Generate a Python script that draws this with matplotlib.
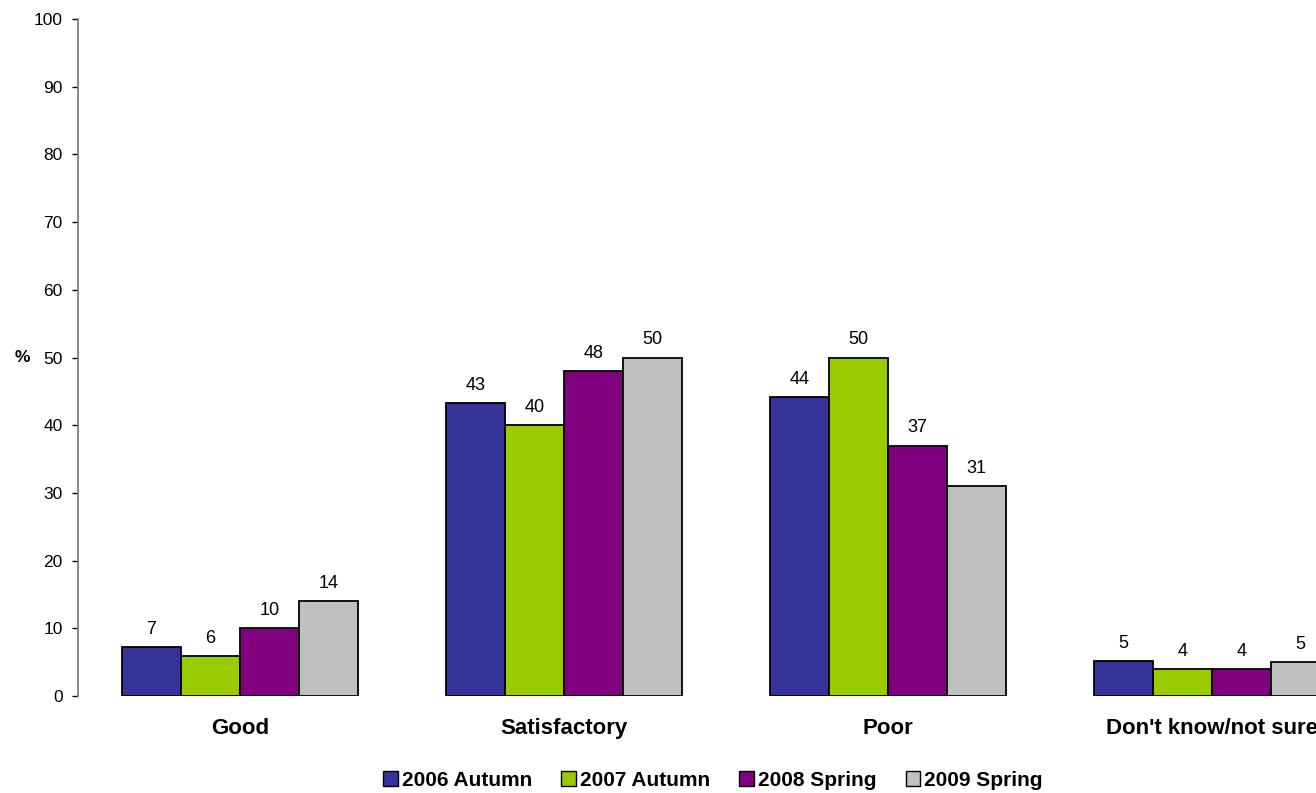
import matplotlib
matplotlib.use("Agg")
import matplotlib.pyplot as plt
import numpy as np
from matplotlib.patches import Patch

plt.rcParams['font.family'] = ['Liberation Sans', 'DejaVu Sans']

categories = ["Good", "Satisfactory", "Poor", "Don't know/not sure"]
series_names = ["2006 Autumn", "2007 Autumn", "2008 Spring", "2009 Spring"]
s2006_autumn = [7.3, 43.3, 44.2, 5.2]
s2007_autumn = [5.9, 40.0, 50.0, 4.0]
s2008_spring = [10.0, 48.0, 37.0, 4.0]
s2009_spring = [14.0, 50.0, 31.0, 5.0]
series_values = [s2006_autumn, s2007_autumn, s2008_spring, s2009_spring]
colors = ["#333399", "#99CC00", "#800080", "#C0C0C0"]
yticks = list(range(0, 101, 10))

W, H = 1316, 793
fig = plt.figure(figsize=(W / 100, H / 100), dpi=100)
ax = fig.add_axes([78 / W, 1 - 696 / H, 1296 / W, (696 - 19) / H])

x = np.arange(len(categories))
bw = 59 / 324
for i, (vals, col) in enumerate(zip(series_values, colors)):
    pos = x + (i - 1.5) * bw
    bars = ax.bar(pos, vals, width=bw, color=col, edgecolor='black', linewidth=1.3, zorder=3)
    for b, v in zip(bars, vals):
        ax.annotate(f"{v:.0f}", (b.get_x() + b.get_width() / 2, v),
                    xytext=(0, 6.5), textcoords='offset points',
                    ha='center', va='bottom', fontsize=13, color='#000000')

ax.set_xlim(-0.5, len(categories) - 0.5)
ax.set_ylim(0, 100)
ax.set_yticks(yticks)
ax.set_yticklabels([str(t) for t in yticks])
ax.tick_params(axis='y', direction='out', length=4, width=1, color='black', pad=7, labelsize=12.5)
ax.set_xticks(x)
ax.set_xticklabels(categories, fontsize=16, fontweight='bold')
ax.tick_params(axis='x', length=0, pad=16)

for s in ['top', 'right', 'bottom']:
    ax.spines[s].set_visible(False)
ax.spines['left'].set_color('#808080')
ax.spines['left'].set_linewidth(1.3)

fig.text(22 / W, 1 - 357 / H, "%", fontsize=12.5, fontweight='bold', ha='center', va='center')

handles = [Patch(facecolor=c, edgecolor='black', linewidth=1.0) for c in colors]
fig.legend(handles, series_names, loc='center', bbox_to_anchor=(713 / W, 1 - 780 / H),
           ncol=4, frameon=False, prop={'size': 15, 'weight': 'bold'},
           handlelength=0.7, handleheight=0.7, handletextpad=0.2, columnspacing=1.4,
           borderaxespad=0, borderpad=0)

fig.savefig("out.png", dpi=100)
